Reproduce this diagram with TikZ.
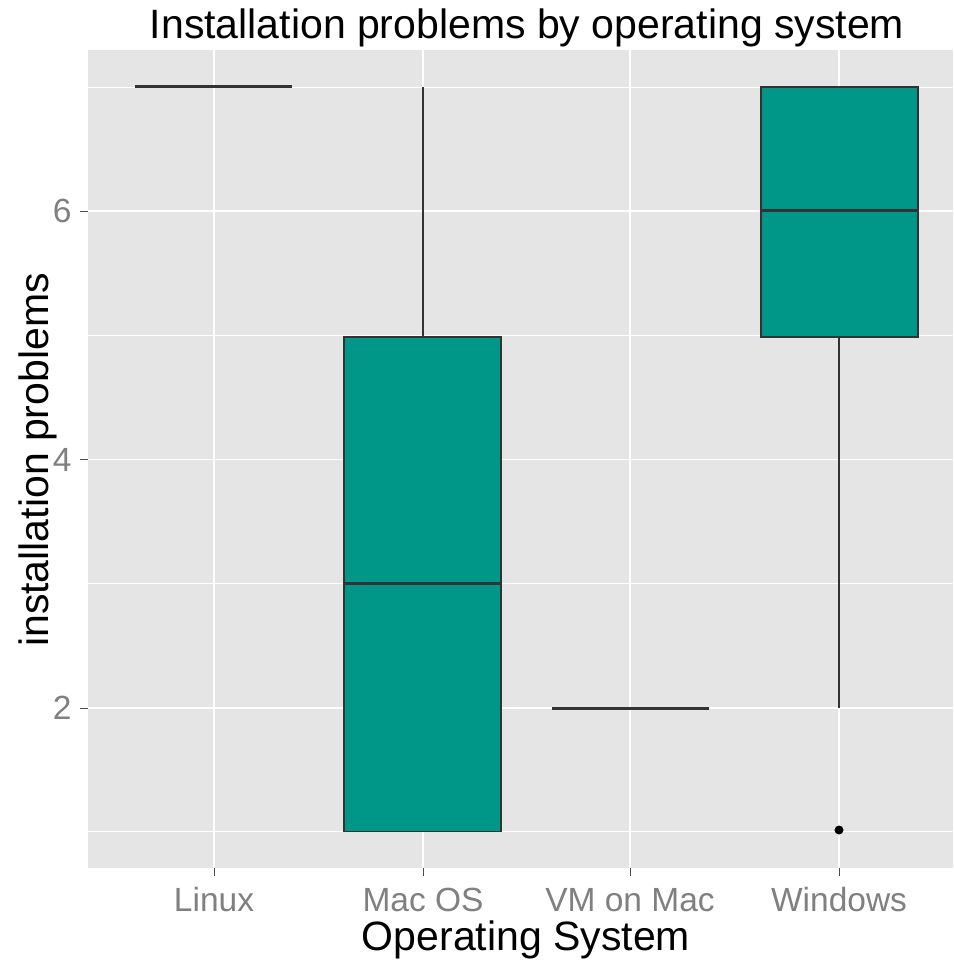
\documentclass[tikz,border=0pt]{standalone}
\usepackage{fontspec}
\setmainfont{Liberation Sans}
\definecolor{panelbg}{gray}{0.9}
\definecolor{boxfill}{RGB}{0,150,136}
\definecolor{boxline}{HTML}{333333}
\definecolor{ticktext}{gray}{0.5}
\begin{document}
\begin{tikzpicture}[x=1pt,y=-1pt,
  majgrid/.style={draw=white,line width=1.6pt},
  mingrid/.style={draw=white,line width=0.8pt},
  whisk/.style={draw=boxline,line width=1.3pt},
  boxst/.style={draw=boxline,fill=boxfill,line width=1.3pt},
  med/.style={draw=boxline,line width=3pt},
  tickst/.style={draw=gray!60!black,line width=1pt},
  ticklab/.style={text=ticktext,font=\fontsize{33.5}{40}\selectfont},
  axtitle/.style={text=black,font=\fontsize{41}{49}\selectfont}]
\useasboundingbox (0,0) rectangle (953,960);
\fill[white] (0,0) rectangle (953,960);
% panel
\fill[panelbg] (88,50) rectangle (953,868);
% minor grid (y = 1,3,5,7)
\foreach \y in {831.7,583.3,335,87}{\draw[mingrid] (88,\y) -- (953,\y);}
% major grid (y = 2,4,6)
\foreach \y in {708,459.6,211}{\draw[majgrid] (88,\y) -- (953,\y);}
\foreach \x in {214,423,630,839}{\draw[majgrid] (\x,50) -- (\x,868);}
% Linux
\draw[med] (135,87) -- (292,87);
% Mac OS
\draw[whisk] (423,87) -- (423,337);
\draw[boxst] (344,337) rectangle (501,831.7);
\draw[med] (344,583) -- (501,583);
% VM on Mac
\draw[med] (552,708) -- (709,708);
% Windows
\draw[whisk] (839,337) -- (839,708);
\draw[boxst] (761,87) rectangle (918,337);
\draw[med] (761,210) -- (918,210);
\fill[black] (839,830) circle (4.5);
% ticks
\foreach \y in {708,459.6,211}{\draw[tickst] (80,\y) -- (88,\y);}
\foreach \x in {214,423,630,839}{\draw[tickst] (\x,868) -- (\x,876);}
% tick labels
\node[ticklab,anchor=east] (y2) at (75,708) {2};
\node[ticklab,anchor=east] (y4) at (75,459.6) {4};
\node[ticklab,anchor=east] (y6) at (75,211) {6};
\node[ticklab] (xl1) at (214,900) {Linux};
\node[ticklab] (xl2) at (423,900) {Mac OS};
\node[ticklab] (xl3) at (630,900) {VM on Mac};
\node[ticklab] (xl4) at (839,900) {Windows};
% titles
\node[axtitle] (xt) at (526,940) {Operating System};
\node[axtitle,rotate=90] (yt) at (38,460) {installation problems};
\node[axtitle] (tt) at (527,28) {Installation problems by operating system};
\end{tikzpicture}
\end{document}
